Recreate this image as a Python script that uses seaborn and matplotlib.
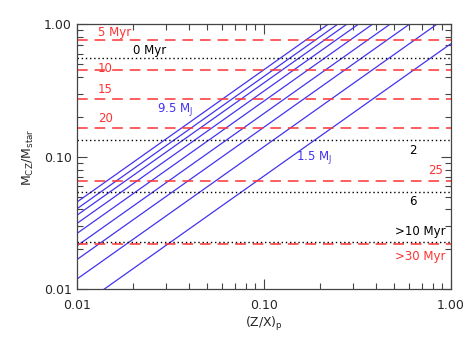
import numpy as np
import pandas as pd
import seaborn as sns
import matplotlib
matplotlib.use('Agg')
import matplotlib.pyplot as plt
from matplotlib.ticker import FixedLocator, FixedFormatter, LogLocator, NullFormatter

# planet masses (M_J) of the blue lines, and their read-off values at x=0.01 and x=1
masses = [9.5, 8.5, 7.5, 6.5, 5.5, 4.5, 3.5, 2.5, 1.5]
y_at_x001 = [0.0454, 0.0404, 0.0361, 0.0313, 0.0263, 0.0212, 0.0167, 0.0119, 0.00714]
y_at_x1 = [4.54, 4.04, 3.61, 3.13, 2.63, 2.12, 1.67, 1.19, 0.714]
x_ends = [0.01, 1.0]

# red dashed levels (ages) and black dotted levels
red_levels = [0.769, 0.456, 0.275, 0.166, 0.0658, 0.0219]
red_labels = ['5 Myr', '10', '15', '20', '25', '>30 Myr']
black_levels = [0.56, 0.133, 0.0546, 0.0228]
black_labels = ['0 Myr', '2', '6', '>10 Myr']

sns.set_style('ticks')
plt.rcParams['font.family'] = ['DejaVu Sans']

fig = plt.figure(figsize=(4.74, 3.39), dpi=100)
ax = fig.add_axes([0.162, 0.147, 0.789, 0.781])

rows = []
for m, y0, y1 in zip(masses, y_at_x001, y_at_x1):
    rows.append({'x': x_ends[0], 'y': y0, 'mass': m})
    rows.append({'x': x_ends[1], 'y': y1, 'mass': m})
df = pd.DataFrame(rows)

blue = '#4433ee'
red = '#ff3333'
sns.lineplot(data=df, x='x', y='y', hue='mass', palette=[blue] * len(masses),
             legend=False, lw=0.9, ax=ax)

for lv in red_levels:
    ax.axhline(lv, color=red, lw=1.1, dashes=(7, 4.5))
for lv in black_levels:
    ax.axhline(lv, color='black', lw=1.0, dashes=(1, 2))

ax.set_xscale('log')
ax.set_yscale('log')
ax.set_xlim(0.01, 1.0)
ax.set_ylim(0.01, 1.0)

for a in (ax.xaxis, ax.yaxis):
    a.set_major_locator(FixedLocator([0.01, 0.1, 1.0]))
    a.set_major_formatter(FixedFormatter(['0.01', '0.10', '1.00']))
    a.set_minor_locator(LogLocator(base=10, subs=np.arange(2, 10)))
    a.set_minor_formatter(NullFormatter())
ax.tick_params(which='both', direction='in', top=True, right=True, labelsize=9,
               width=0.8, color='#444444')
ax.tick_params(which='major', length=7)
ax.tick_params(which='minor', length=4)
ax.tick_params(axis='x', pad=7)
for s in ax.spines.values():
    s.set_color('#444444')
    s.set_linewidth(0.9)

ax.set_xlabel(r'$\mathregular{(Z/X)_p}$', fontsize=9, labelpad=2)
ax.set_ylabel(r'$\mathregular{M_{CZ}/M_{star}}$', fontsize=9, labelpad=6)

fs = 8.5
# age labels
red_pos = [(0.056, 0.97), (0.056, 0.833), (0.056, 0.754), (0.056, 0.644),
           (0.939, 0.447), (0.85, 0.125)]
black_pos = [(0.149, 0.90), (0.888, 0.523), (0.888, 0.33), (0.85, 0.216)]
for t, (px, py) in zip(red_labels, red_pos):
    ax.text(px, py, t, color=red, fontsize=fs, va='center', ha='left',
            transform=ax.transAxes)
for t, (px, py) in zip(black_labels, black_pos):
    ax.text(px, py, t, color='black', fontsize=fs, va='center', ha='left',
            transform=ax.transAxes)

ax.text(0.214, 0.678, r'9.5 $\mathregular{M_J}$', color=blue, fontsize=fs,
        va='center', ha='left', transform=ax.transAxes)
ax.text(0.586, 0.496, r'1.5 $\mathregular{M_J}$', color=blue, fontsize=fs,
        va='center', ha='left', transform=ax.transAxes)

fig.savefig('out.png', dpi=100)
